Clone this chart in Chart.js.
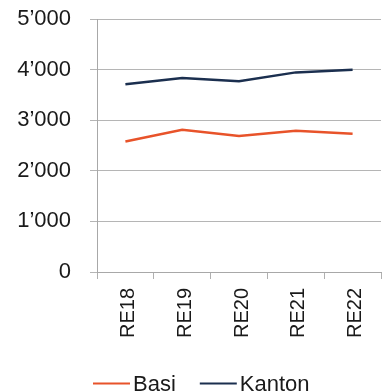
<!DOCTYPE html>
<html>
<head>
<meta charset="utf-8">
<script src="https://cdn.jsdelivr.net/npm/chart.js@4"></script>
<style>
  html, body { margin: 0; padding: 0; background: #fff; }
  #wrap { width: 386px; height: 391px; }
</style>
</head>
<body>
<div id="wrap"><canvas id="chart"></canvas></div>
<script>
const categories = ["RE18", "RE19", "RE20", "RE21", "RE22"];
const basiValues = [2580, 2810, 2690, 2790, 2730];
const kantonValues = [3710, 3835, 3770, 3945, 3995];
const yTicks = [0, 1000, 2000, 3000, 4000, 5000];

const FONT = "'Liberation Sans', Arial, sans-serif";

// legend drawn by hand, lines + labels under the axis
const bottomLegend = {
    id: "bottomLegend",
    afterDraw(chart) {
        const ctx = chart.ctx;
        let x = 93;
        const y = 383.5;
        ctx.save();
        ctx.font = "22px " + FONT;
        ctx.textBaseline = "alphabetic";
        chart.data.datasets.forEach(ds => {
            ctx.strokeStyle = ds.borderColor;
            ctx.lineWidth = 2;
            ctx.beginPath();
            ctx.moveTo(x, y);
            ctx.lineTo(x + 37, y);
            ctx.stroke();
            x += 40;
            ctx.fillStyle = "#1a1a1a";
            ctx.fillText(ds.label, x, 391);
            x += ctx.measureText(ds.label).width + 24;
        });
        ctx.restore();
    }
};

new Chart(document.getElementById("chart"), {
    type: "line",
    data: {
        labels: categories,
        datasets: [{
            label: "Basi",
            data: basiValues,
            borderColor: "#e8532a",
            borderWidth: 2.5,
            pointRadius: 0,
            tension: 0,
        }, {
            label: "Kanton",
            data: kantonValues,
            borderColor: "#1b2f4f",
            borderWidth: 2.5,
            pointRadius: 0,
            tension: 0,
        }]
    },
    options: {
        responsive: true,
        maintainAspectRatio: false,
        animation: false,
        layout: { padding: { top: 19, right: 4, left: 0, bottom: 0 } },
        plugins: {
            legend: { display: false },
            tooltip: { enabled: false },
        },
        scales: {
            x: {
                offset: true,
                grid: {
                    offset: true,
                    drawOnChartArea: false,
                    drawTicks: true,
                    tickLength: 7,
                    color: "#b0b0b0",
                },
                border: { color: "#a8a8a8" },
                ticks: {
                    maxRotation: 90,
                    minRotation: 90,
                    padding: 9,
                    labelOffset: 3,
                    color: "#1a1a1a",
                    font: { family: FONT, size: 20 },
                },
                afterFit(scale) { scale.height = 119; }
            },
            y: {
                min: 0,
                max: 5000,
                afterBuildTicks(scale) { scale.ticks = yTicks.map(v => ({ value: v })); },
                grid: {
                    color: "#b5b5b5",
                    tickLength: 7,
                },
                border: { color: "#a8a8a8" },
                ticks: {
                    padding: 19,
                    color: "#1a1a1a",
                    font: { family: FONT, size: 22 },
                    callback: v => v === 0 ? "0" : (v / 1000) + "\u2019" + String(v % 1000).padStart(3, "0"),
                },
                afterFit(scale) {
                    scale.width = 97;
                    scale.paddingTop = 0;
                    scale.paddingBottom = 0;
                }
            }
        }
    },
    plugins: [bottomLegend]
});
</script>
</body>
</html>
